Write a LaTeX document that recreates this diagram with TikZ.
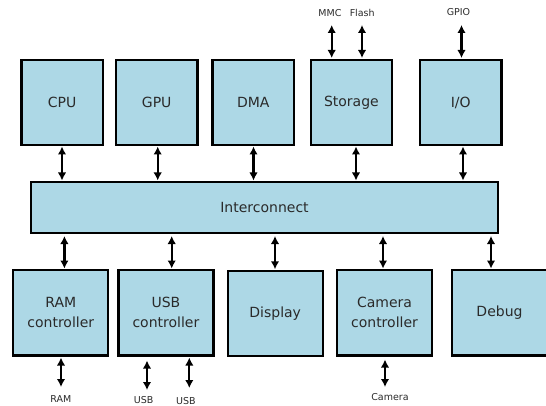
\documentclass[tikz,border=0pt]{standalone}
\usepackage{fontspec}
\setmainfont{DejaVu Sans}
\usetikzlibrary{arrows.meta}
\definecolor{boxfill}{HTML}{ADD8E6}
\definecolor{txt}{HTML}{2A2A2A}
\begin{document}
\begin{tikzpicture}[x=1pt,y=-1pt,
  blk/.style={draw=black, line width=2.2pt, fill=boxfill, inner sep=0pt, outer sep=0pt, align=center, text=txt, font=\fontsize{14}{20}\selectfont},
  topblk/.style={blk, minimum width=81.5pt, minimum height=85pt},
  botblk/.style={blk, minimum width=95pt, minimum height=85.5pt},
  bus/.style={line width=2.2pt, {Latex[length=8pt,width=8.5pt]}-{Latex[length=8pt,width=8.5pt]}},
  lbl/.style={text=txt, font=\fontsize{9.5}{11}\selectfont, inner sep=0pt}
]
\useasboundingbox (0,0) rectangle (546,406);
\clip (0,0) rectangle (546,406);

% top row
\node[topblk] (cpu) at (62.2,102.5) {CPU};
\node[topblk] (gpu) at (156.7,102.5) {GPU};
\node[topblk] (dma) at (253.3,102.5) {DMA};
\node[topblk] (sto) at (351.4,102.5) {Storage};
\node[topblk] (io)  at (460.7,102.5) {I/O};

% interconnect
\node[blk, minimum width=467pt, minimum height=51pt] (ic) at (264.5,207.5) {Interconnect};

% bottom row
\node[botblk] (ram) at (60.8,312.8) {RAM\\controller};
\node[botblk] (usb) at (165.9,312.8) {USB\\controller};
\node[botblk] (disp) at (275.2,313.5) {Display};
\node[botblk] (cam) at (384.5,312.8) {Camera\\controller};
\node[botblk] (dbg) at (499.5,312.8) {Debug};

% top blocks to interconnect
\draw[bus, shorten <=1.5pt, shorten >=1.5pt] (62,0 |- cpu.south) -- (62,0 |- ic.north);
\draw[bus, shorten <=1.5pt, shorten >=1.5pt] (157.7,0 |- gpu.south) -- (157.7,0 |- ic.north);
\draw[bus, shorten <=1.5pt, shorten >=1.5pt] (253.5,0 |- dma.south) -- (253.5,0 |- ic.north);
\draw[bus, shorten <=1.5pt, shorten >=1.5pt] (356,0 |- sto.south) -- (356,0 |- ic.north);
\draw[bus, shorten <=1.5pt, shorten >=1.5pt] (463,0 |- io.south) -- (463,0 |- ic.north);

% interconnect to bottom blocks
\draw[bus, shorten <=3pt, shorten >=1.5pt] (64.4,0 |- ic.south) -- (64.4,0 |- ram.north);
\draw[bus, shorten <=3pt, shorten >=1.5pt] (171.7,0 |- ic.south) -- (171.7,0 |- usb.north);
\draw[bus, shorten <=3pt, shorten >=1.5pt] (275,0 |- ic.south) -- (275,0 |- disp.north);
\draw[bus, shorten <=3pt, shorten >=1.5pt] (383,0 |- ic.south) -- (383,0 |- cam.north);
\draw[bus, shorten <=3pt, shorten >=1.5pt] (491,0 |- ic.south) -- (491,0 |- dbg.north);

% external top
\node[lbl] (mmc) at (330,13.3) {MMC};
\node[lbl] (flash) at (362.2,13.3) {Flash};
\node[lbl] (gpio) at (458.5,12.3) {GPIO};
\coordinate (mmcend) at (331.7,25);
\coordinate (flashend) at (362,25);
\coordinate (gpioend) at (461.5,25);
\draw[bus, shorten >=2pt] (mmcend) -- (mmcend |- sto.north);
\draw[bus, shorten >=2pt] (flashend) -- (flashend |- sto.north);
\draw[bus, shorten >=2pt] (gpioend) -- (gpioend |- io.north);

% external bottom
\coordinate (ramend) at (61,387);
\coordinate (usbaend) at (147,390);
\coordinate (usbbend) at (189.3,388);
\coordinate (camend) at (385,387);
\draw[bus, shorten <=2pt] (ramend |- ram.south) -- (ramend);
\draw[bus, shorten <=5pt] (usbaend |- usb.south) -- (usbaend);
\draw[bus, shorten <=2pt] (usbbend |- usb.south) -- (usbbend);
\draw[bus, shorten <=4pt] (camend |- cam.south) -- (camend);
\node[lbl] (ramlbl) at (60.8,399) {RAM};
\node[lbl] (usbalbl) at (143.7,400) {USB};
\node[lbl] (usbblbl) at (185.8,401) {USB};
\node[lbl] (camlbl) at (390,397) {Camera};
\end{tikzpicture}
\end{document}
